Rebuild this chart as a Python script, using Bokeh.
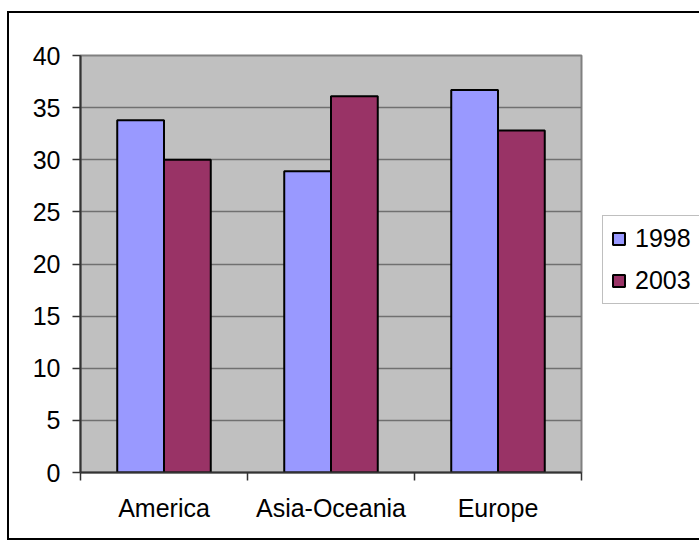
from bokeh.plotting import figure
from bokeh.layouts import row
from bokeh.models import (ColumnDataSource, FixedTicker, Legend, LegendItem,
                          Range1d)
from bokeh.embed import file_html
from bokeh.resources import INLINE

categories = ["America", "Asia-Oceania", "Europe"]
series_names = ["1998", "2003"]
values_1998 = [33.8, 28.9, 36.7]
values_2003 = [30.0, 36.1, 32.8]
y_ticks = [0, 5, 10, 15, 20, 25, 30, 35, 40]
colors = ["#9999FF", "#993366"]

FONT = "Liberation Sans"
FS = "25px"
H = 546

n = len(categories)
centers = [i + 0.5 for i in range(n)]
bounds = [float(i) for i in range(n + 1)]
src = ColumnDataSource(dict(
    x1=[c - 0.14 for c in centers], x2=[c + 0.14 for c in centers],
    v1=values_1998, v2=values_2003,
))

p = figure(width=590, height=H, output_backend="svg", toolbar_location=None,
           x_range=Range1d(0, n), y_range=Range1d(0, 40),
           min_border_left=80, min_border_top=55, min_border_right=9,
           min_border_bottom=H - 472)
p.background_fill_color = "#C0C0C0"
p.border_fill_color = "white"
p.outline_line_color = "#808080"
p.outline_line_width = 2

bar_style = dict(width=0.28, line_color="black", line_width=2)
p.vbar(x="x1", top="v1", source=src, fill_color=colors[0], **bar_style)
p.vbar(x="x2", top="v2", source=src, fill_color=colors[1], **bar_style)

xa = p.xaxis[0]
xa.ticker = FixedTicker(ticks=centers, minor_ticks=bounds)
xa.major_label_overrides = {c: name for c, name in zip(centers, categories)}
xa.major_tick_line_color = None
xa.minor_tick_out = 8
xa.minor_tick_in = 0
xa.minor_tick_line_color = "#333333"
xa.minor_tick_line_width = 1.5
xa.axis_line_color = "#333333"
xa.axis_line_width = 2
xa.major_label_text_font = FONT
xa.major_label_text_font_size = FS
xa.major_label_text_color = "black"
xa.major_label_standoff = 13

ya = p.yaxis[0]
ya.ticker = FixedTicker(ticks=y_ticks)
ya.minor_tick_line_color = None
ya.major_tick_out = 8
ya.major_tick_in = 0
ya.major_tick_line_color = "#333333"
ya.major_tick_line_width = 1.5
ya.axis_line_color = "#333333"
ya.axis_line_width = 2
ya.major_label_text_font = FONT
ya.major_label_text_font_size = FS
ya.major_label_text_color = "black"
ya.major_label_standoff = 12

p.xgrid.grid_line_color = None
p.ygrid.ticker = FixedTicker(ticks=y_ticks)
p.ygrid.grid_line_color = "#707070"
p.ygrid.grid_line_width = 1.5

# Legend panel to the right of the plot area (its frame is aligned with p's).
# Its ranges shrink the legend's source renderers so that they sit entirely
# behind the opaque legend box.
pl = figure(width=109, height=H, output_backend="svg", toolbar_location=None,
            x_range=Range1d(-0.42, 3.07), y_range=Range1d(-97.2, 134.5),
            x_axis_type=None, y_axis_type=None,
            min_border_left=0, min_border_right=0, min_border_top=0,
            min_border_bottom=0)
pl.outline_line_color = None
pl.background_fill_color = "white"
pl.border_fill_color = "white"
lr1 = pl.vbar(x="x1", top="v1", source=src, fill_color=colors[0], **bar_style)
lr2 = pl.vbar(x="x2", top="v2", source=src, fill_color=colors[1], **bar_style)

legend = Legend(items=[LegendItem(label=series_names[0], renderers=[lr1]),
                       LegendItem(label=series_names[1], renderers=[lr2])],
                location=(12, 472 - 304), orientation="vertical")
legend.margin = 0
legend.padding = 8
legend.spacing = 13
legend.glyph_width = 15
legend.glyph_height = 15
legend.label_height = 28
legend.label_standoff = 9
legend.label_text_font = FONT
legend.label_text_font_size = FS
legend.label_text_color = "black"
legend.border_line_color = "#808080"
legend.border_line_width = 1.5
legend.background_fill_color = "white"
legend.background_fill_alpha = 1
pl.add_layout(legend)

layout = row(p, pl, spacing=0)

html = file_html(layout, INLINE)
frame_box = ('<div style="position:absolute;left:7px;top:11px;width:740px;'
             'height:525px;border:2px solid black;pointer-events:none;"></div>')
html = html.replace("</body>", frame_box + "\n</body>")
open("out.html", "w").write(html)
